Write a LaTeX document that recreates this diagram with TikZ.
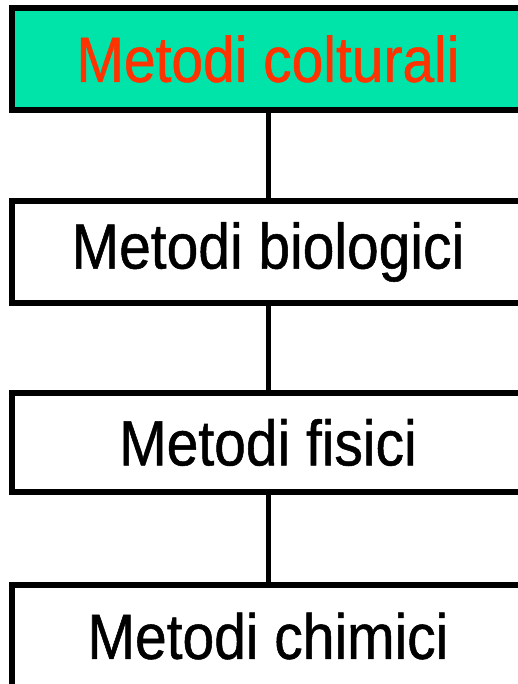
\documentclass[tikz,border=0pt]{standalone}
\usepackage{fontspec}
\setmainfont{Liberation Sans}[FakeStretch=0.89,FakeBold=0.8]
\definecolor{boxgreen}{RGB}{0,228,170}
\definecolor{textred}{RGB}{255,51,0}
\begin{document}
\begin{tikzpicture}[x=1pt,y=-1pt,
  methodbox/.style={draw=black, line width=6pt, rectangle, inner sep=0pt,
    minimum width=512pt, font=\fontsize{64}{70}\selectfont},
  link/.style={draw=black, line width=5pt}]
\useasboundingbox (0,0) rectangle (518,684);
\node[methodbox, fill=boxgreen, text=textred, minimum height=102pt] (b1) at (268,59) {Metodi colturali};
\node[methodbox, fill=white, minimum height=102pt] (b2) at (268,252) {Metodi biologici};
\node[methodbox, fill=white, minimum height=99pt] (b3) at (268,442.5) {Metodi fisici};
\node[methodbox, fill=white, minimum height=102pt] (b4) at (268,636) {Metodi chimici};
\draw[link] ([yshift=3pt]b1.south) -- (b2.north);
\draw[link] ([yshift=3pt]b2.south) -- (b3.north);
\draw[link] ([yshift=3pt]b3.south) -- (b4.north);
\end{tikzpicture}
\end{document}
